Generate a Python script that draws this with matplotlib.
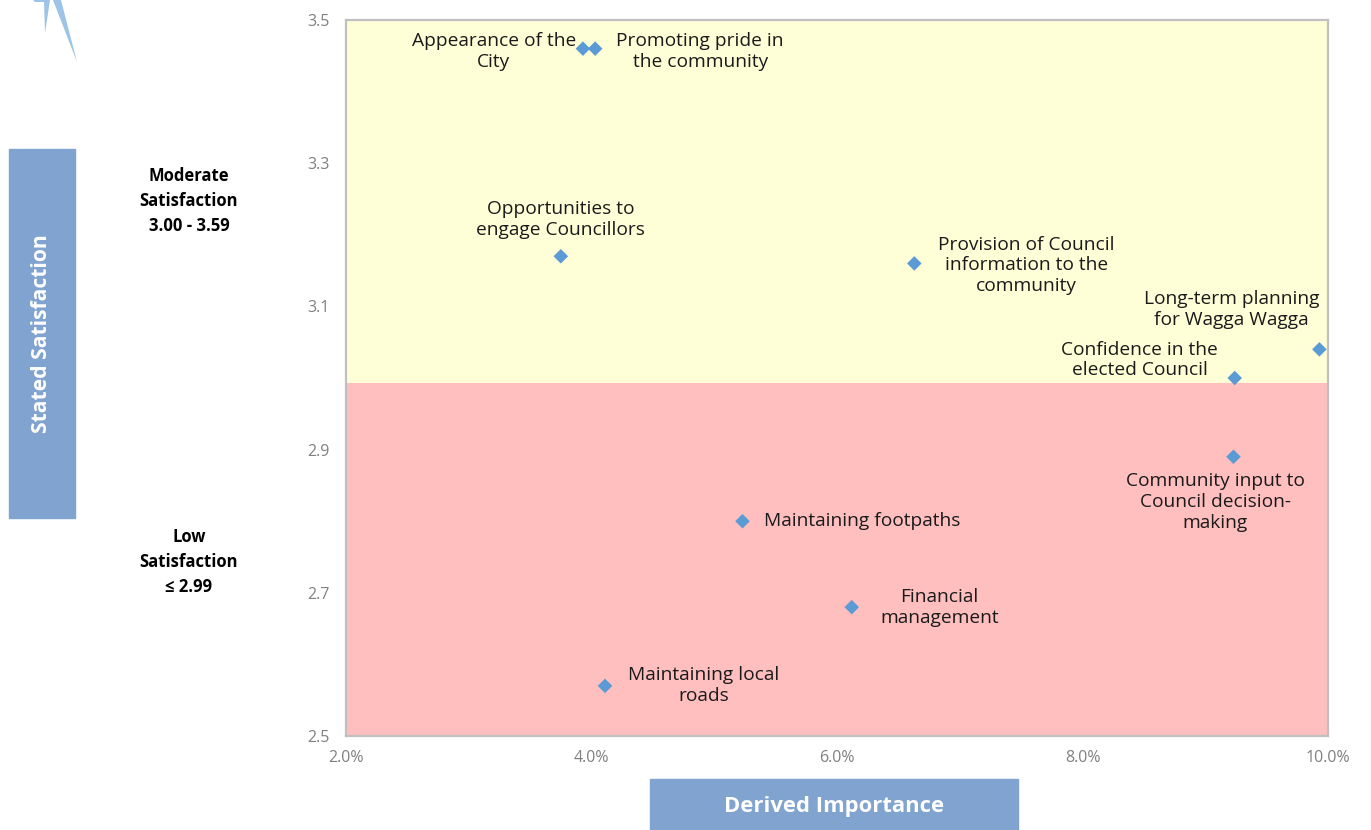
import matplotlib
matplotlib.use("Agg")
import matplotlib.pyplot as plt
from matplotlib.patches import Rectangle, Polygon
from matplotlib.ticker import FuncFormatter, FixedLocator

plt.rcParams['font.family'] = ['Open Sans', 'DejaVu Sans']

# ---- data ----
labels = [
    "Appearance of the\nCity",
    "Promoting pride in\nthe community",
    "Opportunities to\nengage Councillors",
    "Provision of Council\ninformation to the\ncommunity",
    "Long-term planning\nfor Wagga Wagga",
    "Confidence in the\nelected Council",
    "Community input to\nCouncil decision-\nmaking",
    "Maintaining footpaths",
    "Financial\nmanagement",
    "Maintaining local\nroads",
]
importance = [0.0393, 0.0403, 0.0375, 0.0663, 0.0993, 0.0924, 0.0923, 0.0523, 0.0612, 0.0411]
satisfaction = [3.46, 3.46, 3.17, 3.16, 3.04, 3.00, 2.89, 2.80, 2.68, 2.57]

x_ticks = [0.02, 0.04, 0.06, 0.08, 0.10]
y_ticks = [2.5, 2.7, 2.9, 3.1, 3.3, 3.5]
band_low = (2.5, 2.993)
band_mod = (2.993, 3.5)

# label placement (offset in pixels, ha, va)
placement = [
    ((-89, -3), 'center', 'center'),
    ((105, -3), 'center', 'center'),
    ((0, 37), 'center', 'center'),
    ((112, -2), 'center', 'center'),
    ((-88, 40), 'center', 'center'),
    ((-95, 18), 'center', 'center'),
    ((-18, -45), 'center', 'center'),
    ((22, 0), 'left', 'center'),
    ((88, 0), 'center', 'center'),
    ((99, 0), 'center', 'center'),
]

W, H = 1371, 830
fig = plt.figure(figsize=(W / 100, H / 100), dpi=100)
fig.patch.set_facecolor('white')

ax = fig.add_axes([346 / W, (H - 736) / H, (1328 - 346) / W, (736 - 20) / H])
ax.set_xlim(x_ticks[0], x_ticks[-1])
ax.set_ylim(y_ticks[0], y_ticks[-1])
ax.axhspan(band_mod[0], band_mod[1], color='#FFFFD7', zorder=0, lw=0)
ax.axhspan(band_low[0], band_low[1], color='#FFBFBF', zorder=0, lw=0)

ax.scatter(importance, satisfaction, marker='D', s=55, color='#5B9BD5',
           edgecolors='none', zorder=3)

for lab, xv, yv, (off, ha, va) in zip(labels, importance, satisfaction, placement):
    ax.annotate(lab, (xv, yv), xytext=off, textcoords='offset pixels',
                ha=ha, va=va, fontsize=13.8, color='#1a1a1a',
                multialignment='center', linespacing=1.2, zorder=4)

ax.xaxis.set_major_locator(FixedLocator(x_ticks))
ax.yaxis.set_major_locator(FixedLocator(y_ticks))
ax.xaxis.set_major_formatter(FuncFormatter(lambda v, p: f"{v*100:.1f}%"))
ax.yaxis.set_major_formatter(FuncFormatter(lambda v, p: f"{v:.1f}"))
ax.tick_params(axis='both', length=0, labelsize=11.5, labelcolor='#808080')
ax.tick_params(axis='y', pad=12)
ax.tick_params(axis='x', pad=10)
for sp in ax.spines.values():
    sp.set_color('#C0C0C0')
    sp.set_linewidth(1.6)

# ---- side decorations (figure pixel coords) ----
def fx(px):
    return px / W

def fy(py):
    return 1 - py / H

# Stated Satisfaction box
fig.patches.append(Rectangle((fx(9), fy(518)), (75 - 9) / W, (518 - 149) / H,
                             transform=fig.transFigure, color='#80A3D0', zorder=0))
fig.text(fx(42), fy(334), "Stated Satisfaction", rotation=90, ha='center', va='center',
         color='white', fontsize=15.2, fontweight='bold')

# Derived Importance box
fig.patches.append(Rectangle((fx(650), fy(830)), (1018 - 650) / W, (830 - 779) / H,
                             transform=fig.transFigure, color='#80A3D0', zorder=0))
fig.text(fx(834), fy(806), "Derived Importance", ha='center', va='center',
         color='white', fontsize=15.8, fontweight='bold')

fig.text(fx(189), fy(201), "Moderate\nSatisfaction\n3.00 - 3.59", ha='center', va='center',
         fontsize=12, fontweight='bold', color='black', linespacing=1.5)
fig.text(fx(189), fy(562), "Low\nSatisfaction\n\u2264 2.99", ha='center', va='center',
         fontsize=12, fontweight='bold', color='black', linespacing=1.5)

# logo fragments
for pts in ([(44, 0), (50, 0), (45, 33)], [(53, 0), (61, 0), (77, 62)], [(33, 0), (48, 0), (47, 2), (35, 2)]):
    fig.patches.append(Polygon([(fx(a), fy(b)) for a, b in pts], closed=True,
                               transform=fig.transFigure, color='#9DC3E6', lw=0))

fig.savefig("out.png", dpi=100)
